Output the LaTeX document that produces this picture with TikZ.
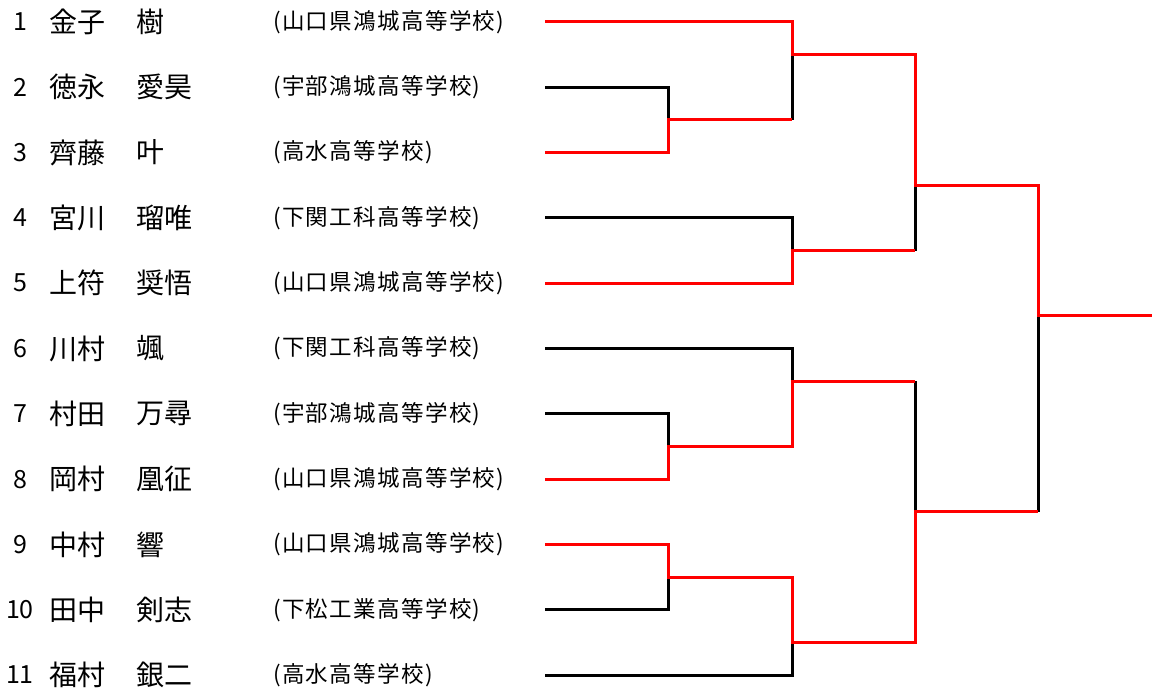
\documentclass[tikz,border=0pt]{standalone}
\usepackage{fontspec}
\setmainfont{Noto Sans CJK JP}
\newfontfamily\schoolfont[LetterSpace=6]{Noto Sans CJK JP}
\begin{document}
\begin{tikzpicture}[x=1pt,y=-1pt,
  numtext/.style={anchor=center,inner sep=0pt,font=\fontsize{25}{25}\selectfont},
  nametext/.style={anchor=west,inner sep=0pt,font=\fontsize{28}{28}\selectfont},
  schooltext/.style={anchor=west,inner sep=0pt,font=\schoolfont\fontsize{22.5}{22.5}\selectfont},
  win/.style={draw=red,line width=3pt,line join=miter},
  lose/.style={draw=black,line width=3pt,line join=miter}]
\useasboundingbox (0,0) rectangle (1152,690);
\foreach \i/\sur/\giv/\sch in {
  1/金子/樹/山口県鴻城高等学校,
  2/徳永/愛昊/宇部鴻城高等学校,
  3/齊藤/叶/高水高等学校,
  4/宮川/瑠唯/下関工科高等学校,
  5/上符/奨悟/山口県鴻城高等学校,
  6/川村/颯/下関工科高等学校,
  7/村田/万尋/宇部鴻城高等学校,
  8/岡村/凰征/山口県鴻城高等学校,
  9/中村/響/山口県鴻城高等学校,
  10/田中/剣志/下松工業高等学校,
  11/福村/銀二/高水高等学校}{
  \pgfmathsetmacro{\yy}{22+(\i-1)*65.3}
  \node[numtext] (num\i) at (20,\yy) {\i};
  \node[nametext] (sur\i) at (49,\yy) {\sur};
  \node[nametext] (giv\i) at (136,\yy) {\giv};
  \node[schooltext] (sch\i) at (273,\yy) {(\sch)};
  \coordinate (r\i) at (545,\yy);
}
\coordinate (m23) at (668,119.95);
\coordinate (m1) at (792,54.65);
\coordinate (m45) at (792,250.55);
\coordinate (m15) at (915,185.25);
\coordinate (m78) at (668,446.45);
\coordinate (m68) at (792,381.15);
\coordinate (m910) at (668,577.05);
\coordinate (m911) at (792,642.35);
\coordinate (m611) at (915,511.75);
\coordinate (champ) at (1038,315.85);
\coordinate (fin) at (1152,315.85);
% losers
\draw[lose] (r2) -| (m23);
\draw[lose] (m1) -- (m1 |- m23);
\draw[lose] (r4) -| (m45);
\draw[lose] (m15) -- (m15 |- m45);
\draw[lose] (r6) -| (m68);
\draw[lose] (r7) -| (m78);
\draw[lose] (r10) -| (m910);
\draw[lose] (r11) -| (m911);
\draw[lose] (m611) -- (m611 |- m68);
\draw[lose] (champ) -- (champ |- m611);
% winners
\draw[win] (r1) -| (m1) -| (m15) -| (champ) -- (fin);
\draw[win] (r3) -| (m23) -- (m1 |- m23);
\draw[win] (r5) -| (m45) -- (m15 |- m45);
\draw[win] (r8) -| (m78) -| (m68) -- (m611 |- m68);
\draw[win] (r9) -| (m910) -| (m911) -| (m611) -- (champ |- m611);
\end{tikzpicture}
\end{document}
